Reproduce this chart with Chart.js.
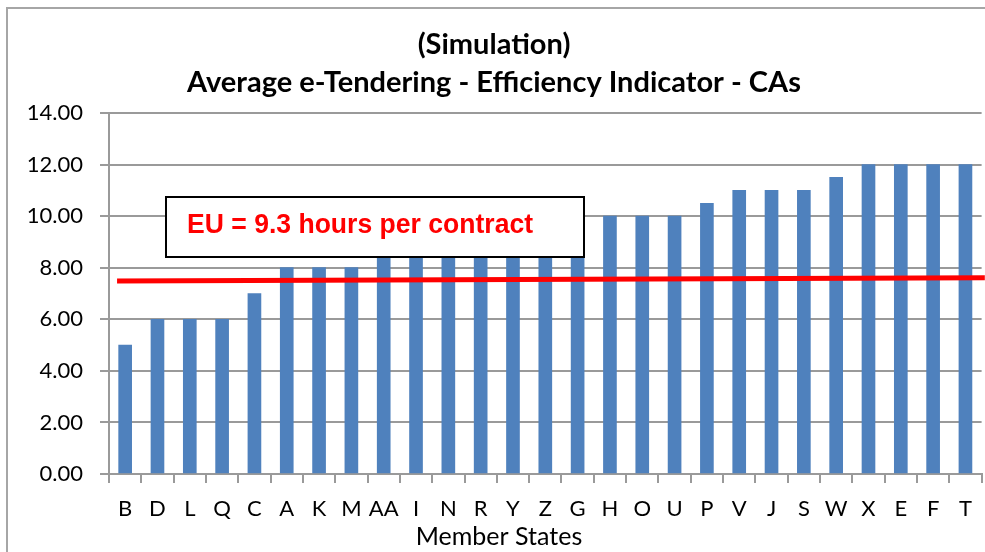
<!DOCTYPE html>
<html>
<head>
<meta charset="utf-8">
<script src="https://cdn.jsdelivr.net/npm/chart.js@4/dist/chart.umd.min.js"></script>
<style>
  html, body { margin: 0; padding: 0; background: #fff; }
  #wrap { width: 985px; height: 552px; }
</style>
</head>
<body>
<div id="wrap"><canvas id="chart" width="985" height="552"></canvas></div>
<script>
// Member states, sorted by indicator value
const memberStates = ['B', 'D', 'L', 'Q', 'C', 'A', 'K', 'M', 'AA', 'I', 'N', 'R', 'Y', 'Z', 'G',
  'H', 'O', 'U', 'P', 'V', 'J', 'S', 'W', 'X', 'E', 'F', 'T'];
// Average hours (bars behind the label box are estimated)
const avgHours = [5, 6, 6, 6, 7, 8, 8, 8, 8.5, 9, 9, 9, 9, 9, 9.5,
  10, 10, 10, 10.5, 11, 11, 11, 11.5, 12, 12, 12, 12];
// Red EU reference line (x in category index units)
const euLineX = [-0.25, 26.6];
const euLineY = [7.48, 7.61];
const euLabel = 'EU = 9.3 hours per contract';
const yTicks = { min: 0, max: 14, step: 2 };
const titleLines = ['(Simulation)', 'Average e-Tendering - Efficiency Indicator - CAs'];
const xAxisTitle = 'Member States';

const FONT = 'Lato, "Open Sans", sans-serif';
const GRID = '#9a9a9a';

// Frame, annotation box and axis title
const decorPlugin = {
  id: 'decor',
  beforeDraw(chart) {
    const ctx = chart.ctx;
    ctx.save();
    ctx.strokeStyle = '#a6a6a6';
    ctx.lineWidth = 2;
    ctx.beginPath();
    ctx.moveTo(7, 560);
    ctx.lineTo(7, 8);
    ctx.lineTo(990, 8);
    ctx.stroke();
    ctx.restore();
  },
  afterDraw(chart) {
    const ctx = chart.ctx;
    ctx.save();
    // label box
    ctx.fillStyle = '#fff';
    ctx.fillRect(166, 197, 418, 60);
    ctx.strokeStyle = '#000';
    ctx.lineWidth = 2;
    ctx.strokeRect(166, 197, 418, 60);
    ctx.font = 'bold 27px "Liberation Sans", Arial, sans-serif';
    ctx.fillStyle = '#ff0000';
    ctx.textBaseline = 'alphabetic';
    const w = ctx.measureText(euLabel).width;
    ctx.translate(187, 233);
    ctx.scale(346 / w, 1);
    ctx.fillText(euLabel, 0, 0);
    ctx.restore();

    ctx.save();
    ctx.font = '25px ' + FONT;
    ctx.fillStyle = '#000';
    ctx.textAlign = 'center';
    ctx.textBaseline = 'middle';
    ctx.fillText(xAxisTitle, 499, 537);
    ctx.restore();
  }
};

new Chart(document.getElementById('chart'), {
  type: 'bar',
  data: {
    labels: memberStates,
    datasets: [
      {
        type: 'line',
        label: 'EU',
        data: euLineX.map((x, i) => ({ x, y: euLineY[i] })),
        xAxisID: 'x2',
        borderColor: '#ff0000',
        borderWidth: 5,
        pointRadius: 0,
        clip: false,
        order: 0
      },
      {
        label: 'Average',
        data: avgHours,
        backgroundColor: '#4f81bd',
        borderWidth: 0,
        barThickness: 13,
        grouped: false,
        order: 1
      }
    ]
  },
  options: {
    responsive: false,
    animation: false,
    events: [],
    layout: { padding: { top: 7, left: 6, right: 3, bottom: 0 } },
    plugins: {
      legend: { display: false },
      tooltip: { enabled: false },
      title: {
        display: true,
        text: titleLines,
        color: '#000',
        font: { family: FONT, size: 29, weight: 'bold', lineHeight: 1.31 },
        padding: { top: 19, bottom: 11 }
      }
    },
    scales: {
      x: {
        offset: true,
        grid: { display: true, drawOnChartArea: false, offset: true, color: GRID, lineWidth: 2, tickLength: 9 },
        border: { color: GRID, width: 2 },
        ticks: { color: '#000', font: { family: FONT, size: 22 }, padding: 13, maxRotation: 0, autoSkip: false },
        afterFit(scale) { scale.height = 78; }
      },
      x2: {
        type: 'linear',
        display: false,
        offset: false,
        min: -0.5,
        max: memberStates.length - 0.5
      },
      y: {
        min: yTicks.min,
        max: yTicks.max,
        ticks: {
          stepSize: yTicks.step,
          color: '#000',
          font: { family: FONT, size: 22 },
          padding: 17,
          callback: v => v.toFixed(2)
        },
        grid: { color: GRID, lineWidth: 2, tickLength: 9 },
        border: { color: GRID, width: 2 },
        afterFit(scale) { scale.width = 103; }
      }
    }
  },
  plugins: [decorPlugin]
});
</script>
</body>
</html>
